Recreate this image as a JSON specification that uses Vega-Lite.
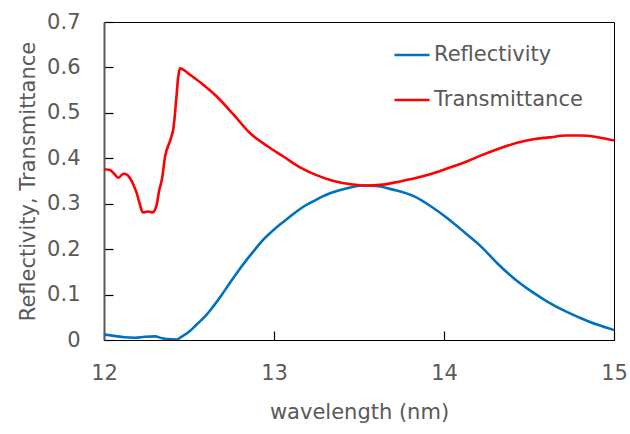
{
  "$schema": "https://vega.github.io/schema/vega-lite/v6.json",
  "width": 510,
  "height": 318,
  "autosize": {"type": "none"},
  "padding": {"left": 104, "top": 22, "right": 16, "bottom": 94},
  "background": "white",
  "config": {
    "font": "DejaVu Sans",
    "view": {"stroke": "black", "strokeWidth": 1}
  },
  "data": {
    "values": [
      {"x": 12.0, "v": 0.012, "s": "Reflectivity"},
      {"x": 12.06, "v": 0.009, "s": "Reflectivity"},
      {"x": 12.12, "v": 0.006, "s": "Reflectivity"},
      {"x": 12.18, "v": 0.005, "s": "Reflectivity"},
      {"x": 12.24, "v": 0.007, "s": "Reflectivity"},
      {"x": 12.30, "v": 0.008, "s": "Reflectivity"},
      {"x": 12.34, "v": 0.004, "s": "Reflectivity"},
      {"x": 12.37, "v": 0.002, "s": "Reflectivity"},
      {"x": 12.43, "v": 0.001, "s": "Reflectivity"},
      {"x": 12.447, "v": 0.005, "s": "Reflectivity"},
      {"x": 12.5, "v": 0.018, "s": "Reflectivity"},
      {"x": 12.545, "v": 0.034, "s": "Reflectivity"},
      {"x": 12.6, "v": 0.054, "s": "Reflectivity"},
      {"x": 12.643, "v": 0.074, "s": "Reflectivity"},
      {"x": 12.69, "v": 0.098, "s": "Reflectivity"},
      {"x": 12.741, "v": 0.126, "s": "Reflectivity"},
      {"x": 12.79, "v": 0.152, "s": "Reflectivity"},
      {"x": 12.84, "v": 0.177, "s": "Reflectivity"},
      {"x": 12.89, "v": 0.200, "s": "Reflectivity"},
      {"x": 12.937, "v": 0.221, "s": "Reflectivity"},
      {"x": 12.985, "v": 0.238, "s": "Reflectivity"},
      {"x": 13.035, "v": 0.254, "s": "Reflectivity"},
      {"x": 13.085, "v": 0.269, "s": "Reflectivity"},
      {"x": 13.133, "v": 0.283, "s": "Reflectivity"},
      {"x": 13.18, "v": 0.295, "s": "Reflectivity"},
      {"x": 13.23, "v": 0.305, "s": "Reflectivity"},
      {"x": 13.28, "v": 0.315, "s": "Reflectivity"},
      {"x": 13.33, "v": 0.323, "s": "Reflectivity"},
      {"x": 13.38, "v": 0.329, "s": "Reflectivity"},
      {"x": 13.43, "v": 0.334, "s": "Reflectivity"},
      {"x": 13.525, "v": 0.340, "s": "Reflectivity"},
      {"x": 13.6, "v": 0.339, "s": "Reflectivity"},
      {"x": 13.7, "v": 0.331, "s": "Reflectivity"},
      {"x": 13.825, "v": 0.316, "s": "Reflectivity"},
      {"x": 13.92, "v": 0.295, "s": "Reflectivity"},
      {"x": 14.02, "v": 0.268, "s": "Reflectivity"},
      {"x": 14.12, "v": 0.237, "s": "Reflectivity"},
      {"x": 14.22, "v": 0.205, "s": "Reflectivity"},
      {"x": 14.31, "v": 0.170, "s": "Reflectivity"},
      {"x": 14.41, "v": 0.136, "s": "Reflectivity"},
      {"x": 14.51, "v": 0.108, "s": "Reflectivity"},
      {"x": 14.61, "v": 0.084, "s": "Reflectivity"},
      {"x": 14.71, "v": 0.064, "s": "Reflectivity"},
      {"x": 14.806, "v": 0.048, "s": "Reflectivity"},
      {"x": 14.9, "v": 0.034, "s": "Reflectivity"},
      {"x": 15.0, "v": 0.022, "s": "Reflectivity"},
      {"x": 12.0, "v": 0.376, "s": "Transmittance"},
      {"x": 12.035, "v": 0.374, "s": "Transmittance"},
      {"x": 12.06, "v": 0.366, "s": "Transmittance"},
      {"x": 12.084, "v": 0.357, "s": "Transmittance"},
      {"x": 12.114, "v": 0.366, "s": "Transmittance"},
      {"x": 12.135, "v": 0.364, "s": "Transmittance"},
      {"x": 12.153, "v": 0.356, "s": "Transmittance"},
      {"x": 12.175, "v": 0.340, "s": "Transmittance"},
      {"x": 12.192, "v": 0.324, "s": "Transmittance"},
      {"x": 12.21, "v": 0.300, "s": "Transmittance"},
      {"x": 12.228, "v": 0.281, "s": "Transmittance"},
      {"x": 12.26, "v": 0.283, "s": "Transmittance"},
      {"x": 12.286, "v": 0.281, "s": "Transmittance"},
      {"x": 12.31, "v": 0.298, "s": "Transmittance"},
      {"x": 12.325, "v": 0.330, "s": "Transmittance"},
      {"x": 12.34, "v": 0.352, "s": "Transmittance"},
      {"x": 12.36, "v": 0.405, "s": "Transmittance"},
      {"x": 12.39, "v": 0.440, "s": "Transmittance"},
      {"x": 12.41, "v": 0.470, "s": "Transmittance"},
      {"x": 12.425, "v": 0.530, "s": "Transmittance"},
      {"x": 12.437, "v": 0.580, "s": "Transmittance"},
      {"x": 12.447, "v": 0.598, "s": "Transmittance"},
      {"x": 12.47, "v": 0.594, "s": "Transmittance"},
      {"x": 12.506, "v": 0.584, "s": "Transmittance"},
      {"x": 12.58, "v": 0.563, "s": "Transmittance"},
      {"x": 12.663, "v": 0.536, "s": "Transmittance"},
      {"x": 12.76, "v": 0.497, "s": "Transmittance"},
      {"x": 12.86, "v": 0.455, "s": "Transmittance"},
      {"x": 12.96, "v": 0.427, "s": "Transmittance"},
      {"x": 13.055, "v": 0.404, "s": "Transmittance"},
      {"x": 13.153, "v": 0.380, "s": "Transmittance"},
      {"x": 13.25, "v": 0.363, "s": "Transmittance"},
      {"x": 13.35, "v": 0.350, "s": "Transmittance"},
      {"x": 13.45, "v": 0.343, "s": "Transmittance"},
      {"x": 13.545, "v": 0.340, "s": "Transmittance"},
      {"x": 13.64, "v": 0.342, "s": "Transmittance"},
      {"x": 13.74, "v": 0.349, "s": "Transmittance"},
      {"x": 13.84, "v": 0.357, "s": "Transmittance"},
      {"x": 13.937, "v": 0.367, "s": "Transmittance"},
      {"x": 14.03, "v": 0.379, "s": "Transmittance"},
      {"x": 14.134, "v": 0.393, "s": "Transmittance"},
      {"x": 14.23, "v": 0.408, "s": "Transmittance"},
      {"x": 14.33, "v": 0.422, "s": "Transmittance"},
      {"x": 14.43, "v": 0.434, "s": "Transmittance"},
      {"x": 14.525, "v": 0.442, "s": "Transmittance"},
      {"x": 14.62, "v": 0.446, "s": "Transmittance"},
      {"x": 14.72, "v": 0.450, "s": "Transmittance"},
      {"x": 14.8, "v": 0.450, "s": "Transmittance"},
      {"x": 14.88, "v": 0.448, "s": "Transmittance"},
      {"x": 14.94, "v": 0.444, "s": "Transmittance"},
      {"x": 15.0, "v": 0.439, "s": "Transmittance"}
    ]
  },
  "resolve": {"axis": {"x": "independent", "y": "independent"}},
  "layer": [
    {
      "mark": {"type": "point", "opacity": 0},
      "encoding": {
        "x": {
          "field": "x", "type": "quantitative",
          "scale": {"domain": [12, 15], "nice": false, "zero": false},
          "axis": {
            "orient": "top", "offset": -318,
            "values": [12, 13, 14, 15],
            "title": null, "labels": false, "domain": false, "grid": false,
            "ticks": true, "tickSize": 9, "tickWidth": 1.2, "tickColor": "black"
          }
        },
        "y": {
          "field": "v", "type": "quantitative",
          "scale": {"domain": [0, 0.7], "nice": false},
          "axis": {
            "orient": "right", "offset": -510,
            "values": [0, 0.1, 0.2, 0.3, 0.4, 0.5, 0.6, 0.7],
            "title": null, "labels": false, "domain": false, "grid": false,
            "ticks": true, "tickSize": 9, "tickWidth": 1.2, "tickColor": "black"
          }
        }
      }
    },
    {
      "mark": {"type": "line", "strokeWidth": 2.6, "interpolate": "monotone", "clip": true},
      "encoding": {
        "x": {
          "field": "x", "type": "quantitative",
          "scale": {"domain": [12, 15], "nice": false, "zero": false},
          "axis": {
            "orient": "bottom",
            "title": "wavelength (nm)",
            "values": [12, 13, 14, 15],
            "format": "d",
            "grid": false, "ticks": false, "labelFlush": false,
            "domainColor": "black", "domainWidth": 1,
            "labelFontSize": 21, "labelColor": "#595959", "labelPadding": 22,
            "labelFont": "DejaVu Sans",
            "titleFontSize": 21, "titleColor": "#595959", "titleFontWeight": "normal",
            "titleFont": "DejaVu Sans", "titlePadding": 18
          }
        },
        "y": {
          "field": "v", "type": "quantitative",
          "scale": {"domain": [0, 0.7], "nice": false},
          "axis": {
            "orient": "left",
            "title": "Reflectivity, Transmittance",
            "values": [0, 0.1, 0.2, 0.3, 0.4, 0.5, 0.6, 0.7],
            "format": ".1~f",
            "grid": false, "ticks": false, "labelFlush": false,
            "domainColor": "#595959", "domainWidth": 2,
            "labelFontSize": 21, "labelColor": "#595959", "labelPadding": 24,
            "labelFont": "DejaVu Sans",
            "titleFontSize": 21, "titleColor": "#595959", "titleFontWeight": "normal",
            "titleFont": "DejaVu Sans", "titlePadding": 8
          }
        },
        "color": {
          "field": "s", "type": "nominal",
          "scale": {"domain": ["Reflectivity", "Transmittance"], "range": ["#0070C0", "#FF0000"]},
          "legend": {
            "title": null,
            "orient": "none",
            "legendX": 289,
            "legendY": 14,
            "symbolType": "stroke",
            "symbolSize": 1225,
            "symbolStrokeWidth": 2.6,
            "labelFontSize": 21,
            "labelColor": "#595959",
            "labelFont": "DejaVu Sans",
            "labelOffset": 3,
            "rowPadding": 16
          }
        }
      }
    }
  ]
}
